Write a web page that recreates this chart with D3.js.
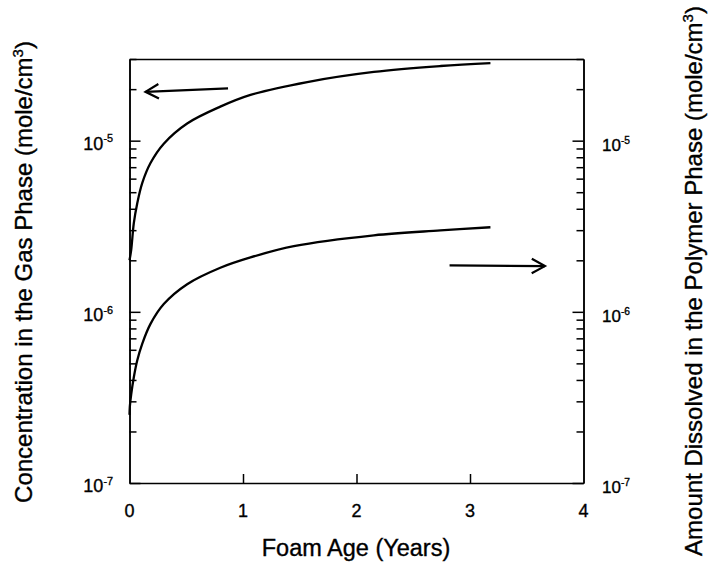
<!DOCTYPE html>
<html>
<head>
<meta charset="utf-8">
<script src="https://cdn.jsdelivr.net/npm/d3@7"></script>
<style>
  html, body { margin: 0; padding: 0; background: #fff; }
  svg { display: block; font-family: "Liberation Sans", Arial, Helvetica, sans-serif; }
  svg text { fill: #000; stroke: #000; stroke-width: 0.35; }
  .axis path, .axis line { stroke: #000; stroke-width: 1.5; }
</style>
</head>
<body>
<svg id="chart" width="710" height="563"></svg>
<script>
// Foam age (years) and the two concentration profiles
const ageGas = [0, 0.015, 0.038, 0.068, 0.112, 0.185, 0.302, 0.508, 0.80, 1.066, 1.566, 2.153, 2.74, 3.18];
const gasPhase = [2.0e-6, 2.3e-6, 3.3e-6, 4.3e-6, 5.65e-6, 7.4e-6, 9.6e-6, 1.26e-5, 1.58e-5, 1.85e-5, 2.2e-5, 2.52e-5, 2.73e-5, 2.84e-5];

const agePolymer = [0, 0.003, 0.015, 0.038, 0.068, 0.112, 0.185, 0.302, 0.508, 0.80, 1.066, 1.448, 2.153, 2.74, 3.18];
const polymerPhase = [2.5e-7, 2.8e-7, 3.3e-7, 4.15e-7, 5.2e-7, 6.5e-7, 8.5e-7, 1.11e-6, 1.45e-6, 1.81e-6, 2.08e-6, 2.42e-6, 2.8e-6, 2.99e-6, 3.12e-6];

// Axis ticks
const xTicks = [0, 1, 2, 3, 4];
const yMajor = [1e-7, 1e-6, 1e-5];
const yMajorExp = ["-7", "-6", "-5"];

// Arrows: [age, value] of tail and tip
const arrowGas = [[0.868, 2.02e-5], [0.141, 1.93e-5]];
const arrowPolymer = [[2.82, 1.87e-6], [3.66, 1.85e-6]];

const xTitle = "Foam Age (Years)";
const yLeftTitle = "Concentration in the Gas Phase (mole/cm";
const yRightTitle = "Amount Dissolved in the Polymer Phase (mole/cm";

const svg = d3.select("#chart");
const L = 129.5, R = 583.5, T = 59, B = 483;

const x = d3.scaleLinear().domain([0, 4]).range([L, R]);
const y = d3.scaleLog().domain([1e-7, 3e-5]).range([B, T]);
const yMinor = y.ticks().filter(v => !yMajor.some(m => Math.abs(m - v) / m < 1e-6));

// Frame and ticks (all pointing inward)
svg.append("g").attr("class", "axis").attr("transform", `translate(${L},0)`)
  .call(d3.axisLeft(y).tickValues(yMinor).tickSizeInner(-7).tickSizeOuter(0).tickFormat(() => ""));
svg.append("g").attr("class", "axis").attr("transform", `translate(${L},0)`)
  .call(d3.axisLeft(y).tickValues(yMajor).tickSizeInner(-11).tickSizeOuter(0).tickFormat(() => ""));
svg.append("g").attr("class", "axis").attr("transform", `translate(${R},0)`)
  .call(d3.axisRight(y).tickValues(yMinor).tickSizeInner(-7).tickSizeOuter(0).tickFormat(() => ""));
svg.append("g").attr("class", "axis").attr("transform", `translate(${R},0)`)
  .call(d3.axisRight(y).tickValues(yMajor).tickSizeInner(-11).tickSizeOuter(0).tickFormat(() => ""));
svg.append("g").attr("class", "axis").attr("transform", `translate(0,${B})`)
  .call(d3.axisBottom(x).tickValues(xTicks.slice(1, -1)).tickSizeInner(-9).tickSizeOuter(0).tickFormat(() => ""));
svg.append("g").attr("class", "axis").attr("transform", `translate(0,${T})`)
  .call(d3.axisTop(x).tickValues([]).tickSizeOuter(0));

// x tick labels
svg.append("g").selectAll("text").data(xTicks).join("text")
  .attr("x", d => x(d)).attr("y", 517)
  .attr("text-anchor", "middle").attr("font-size", 18)
  .text(d => d);

// y tick labels with superscript exponents
function powerLabel(g, xPos, anchor, size, off) {
  g.selectAll("text").data(yMajor).join("text")
    .attr("x", xPos).attr("y", d => y(d) + off)
    .attr("text-anchor", anchor).attr("font-size", size)
    .each(function(d, i) {
      const t = d3.select(this);
      t.append("tspan").text("10");
      t.append("tspan").attr("font-size", size * 0.6).attr("dy", -size * 0.4).text(yMajorExp[i]);
    });
}
powerLabel(svg.append("g"), 113, "end", 18, 9);
powerLabel(svg.append("g"), 602, "start", 17, 10);

// Curves
const line = d3.line().x(d => x(d[0])).y(d => y(d[1])).curve(d3.curveCatmullRom.alpha(0.5));
svg.append("path").datum(d3.zip(ageGas, gasPhase))
  .attr("fill", "none").attr("stroke", "#000").attr("stroke-width", 2.3).attr("d", line);
svg.append("path").datum(d3.zip(agePolymer, polymerPhase))
  .attr("fill", "none").attr("stroke", "#000").attr("stroke-width", 2.3).attr("d", line);

// Arrows pointing to the axis each curve belongs to
function arrow(pts) {
  const [x0, y0] = [x(pts[0][0]), y(pts[0][1])];
  const [x1, y1] = [x(pts[1][0]), y(pts[1][1])];
  const a = Math.atan2(y1 - y0, x1 - x0);
  const len = 15, spread = 0.5;
  const g = svg.append("g").attr("fill", "none").attr("stroke", "#000").attr("stroke-width", 2.2);
  g.append("line").attr("x1", x0).attr("y1", y0).attr("x2", x1).attr("y2", y1);
  g.append("path").attr("d", `M${x1 - len * Math.cos(a - spread)},${y1 - len * Math.sin(a - spread)}L${x1},${y1}L${x1 - len * Math.cos(a + spread)},${y1 - len * Math.sin(a + spread)}`);
}
arrow(arrowGas);
arrow(arrowPolymer);

// Axis titles
svg.append("text").attr("x", 356).attr("y", 556)
  .attr("text-anchor", "middle").attr("font-size", 23.5).text(xTitle);

function sideTitle(xPos, yPos, label) {
  const t = svg.append("text").attr("transform", `translate(${xPos},${yPos}) rotate(-90)`)
    .attr("text-anchor", "middle").attr("font-size", 24);
  t.append("tspan").text(label);
  t.append("tspan").attr("font-size", 15).attr("dy", -9).text("3");
  t.append("tspan").attr("dy", 9).text(")");
}
sideTitle(32, 272, yLeftTitle);
sideTitle(702, 281, yRightTitle);
</script>
</body>
</html>
